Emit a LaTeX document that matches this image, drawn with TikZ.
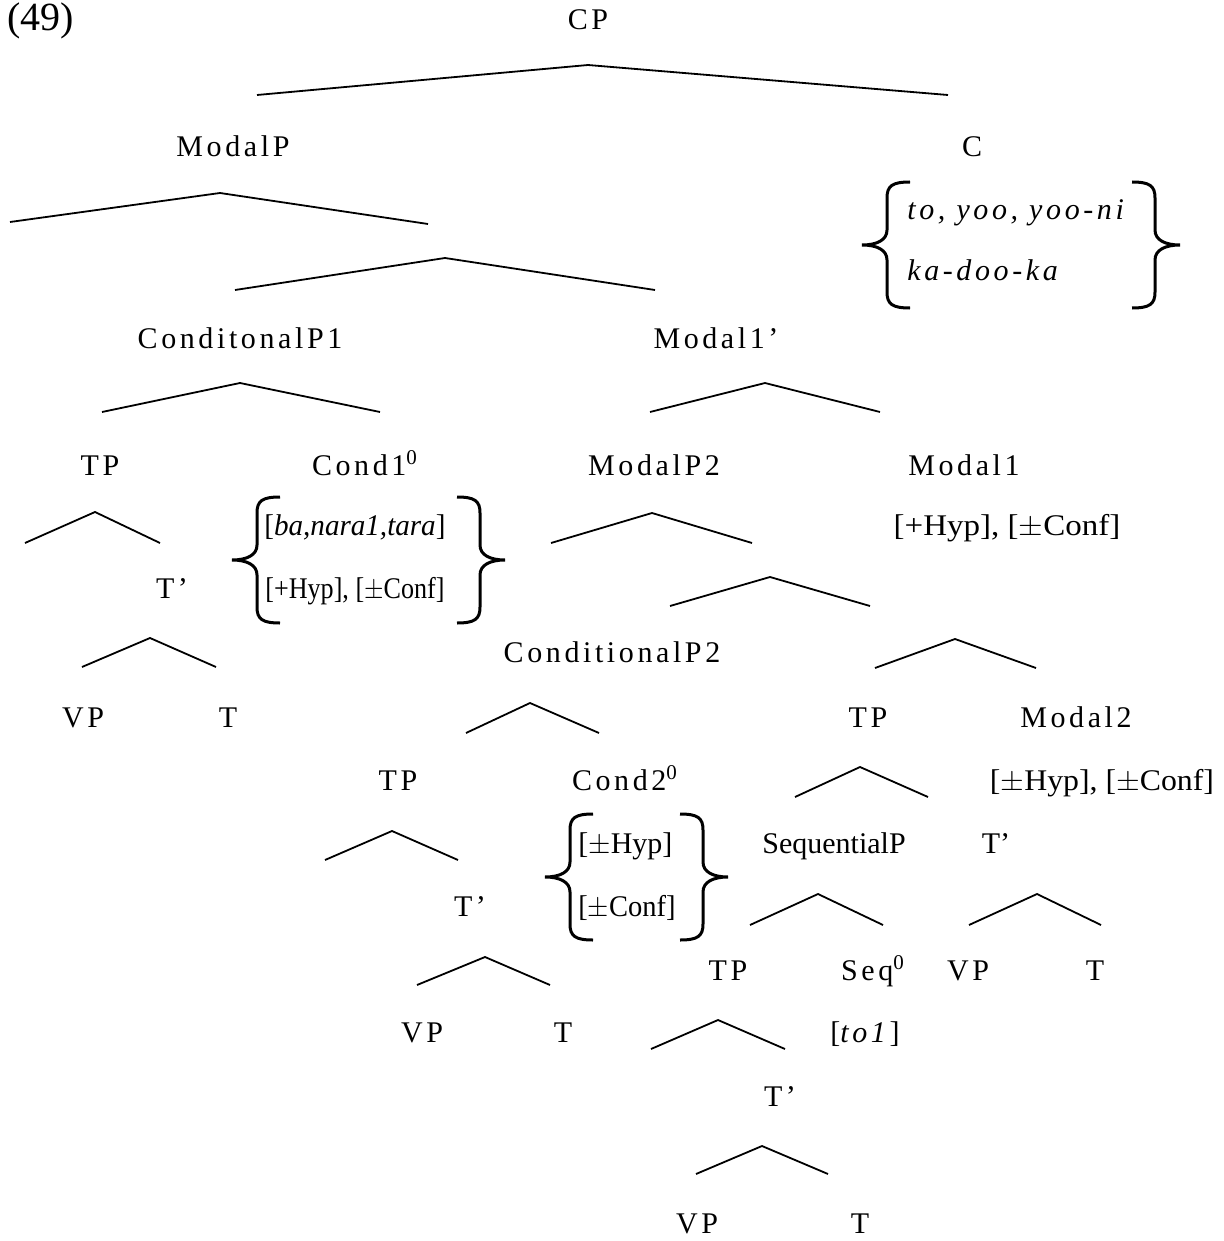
\documentclass[tikz,border=0pt]{standalone}
\usepackage{fontspec}
\usepackage{graphicx}
\setmainfont{Liberation Serif}
\newfontfamily\spc[LetterSpace=12]{Liberation Serif}
\newcommand\lsize{\fontsize{15}{18}\selectfont}

\tikzset{
    % curly brace, origin at the middle of its back, pointing left
    cbrace/.pic={
        \draw[line width=1.5pt] (23,-63) .. controls (5,-63) and (0,-59) .. (0,-47)
            -- (0,-15) .. controls (0,-5) and (-10,0) .. (-25,0)
            .. controls (-10,0) and (0,5) .. (0,15)
            -- (0,47) .. controls (0,59) and (5,63) .. (23,63);
    }
}

\begin{document}
\begin{tikzpicture}[
    x=0.5pt, y=-0.5pt,
    font=\lsize,
    lab/.style={anchor=base, inner sep=0pt, font=\lsize\spc},
    feat/.style={anchor=base, inner sep=0pt, font=\lsize},
    roof/.style={line width=0.9pt}
]
\useasboundingbox (0,0) rectangle (1224,1241);

\node[feat, anchor=base west, font=\fontsize{20}{24}\selectfont] (ex) at (7,31) {(49)};

% Top: CP, ModalP and C
\node[lab] (cp) at (588,30) {CP};
\node[lab] (modalp) at (233,157) {ModalP};
\node[lab] (c) at (972,157) {C};
\node[lab, anchor=base west] (cto) at (907,220) {\itshape to, yoo, yoo-ni};
\node[lab, anchor=base west] (cka) at (907,280) {\itshape ka-doo-ka};
\pic at (887,245) {cbrace};
\pic[xscale=-1] at (1155,245) {cbrace};

% Second level
\node[lab] (condp1) at (240,348) {ConditonalP1};
\node[lab] (modalbar) at (716,348) {Modal1’};

% Third level
\node[lab] (tpa) at (100,475) {TP};
\node[lab] (cond1) at (365,475) {Cond1\textsuperscript{0}};
\node[lab] (modalp2) at (654,475) {ModalP2};
\node[lab] (modal1) at (964,475) {Modal1};
\node[feat, anchor=base west] (cond1a) at (264,535) {\scalebox{0.97}[1]{[\textit{ba,nara1,tara}]}};
\node[feat, anchor=base west] (cond1b) at (265,598) {\scalebox{0.87}[1]{[+Hyp], [$\pm$Conf]}};
\pic at (257,560) {cbrace};
\pic[xscale=-1] at (480,560) {cbrace};
\node[feat] (modal1f) at (1007,535) {\scalebox{1.1}[1]{[+Hyp], [$\pm$Conf]}};
\node[lab] (tba) at (172,598) {T’};

% ConditionalP2 and Modal2
\node[lab] (condp2) at (612,662) {ConditionalP2};
\node[lab] (vpa) at (83,727) {VP};
\node[lab] (ta) at (228,727) {T};
\node[lab] (tpb) at (868,727) {TP};
\node[lab] (modal2) at (1076,727) {Modal2};
\node[lab] (tpc) at (398,790) {TP};
\node[lab] (cond2) at (625,790) {Cond2\textsuperscript{0}};
\node[feat] (modal2f) at (1102,790) {\scalebox{1.06}[1]{[$\pm$Hyp], [$\pm$Conf]}};
\node[feat, anchor=base west] (cond2a) at (578,853) {[$\pm$Hyp]};
\node[feat, anchor=base west] (cond2b) at (578,916) {\scalebox{0.95}[1]{[$\pm$Conf]}};
\pic at (570,877) {cbrace};
\pic[xscale=-1] at (703,877) {cbrace};
\node[feat] (seqp) at (834,853) {SequentialP};
\node[feat] (tbb) at (996,853) {T’};
\node[lab] (tbc) at (470,916) {T’};

% Lower levels
\node[lab] (tpd) at (728,980) {TP};
\node[lab] (seq) at (873,980) {Seq\textsuperscript{0}};
\node[lab] (vpb) at (968,980) {VP};
\node[lab] (tb) at (1095,980) {T};
\node[lab] (vpc) at (422,1042) {VP};
\node[lab] (tc) at (563,1042) {T};
\node[lab] (seqf) at (865,1042) {[\textit{to1}]};
\node[lab] (tbd) at (780,1106) {T’};
\node[lab] (vpd) at (697,1233) {VP};
\node[lab] (td) at (860,1233) {T};

% Roofs: left end, apex, right end
\foreach \xa/\ya/\xb/\yb/\xc/\yc in {
    257/95/588/65/948/95,
    10/222/220/193/428/224,
    235/290/445/258/655/290,
    102/412/240/383/380/412,
    650/412/765/383/880/412,
    25/543/95/512/160/543,
    551/543/652/513/752/543,
    670/606/770/577/870/606,
    82/667/150/638/216/667,
    875/668/955/639/1036/668,
    466/733/530/703/599/733,
    795/797/860/767/928/797,
    325/860/392/831/458/860,
    750/925/818/894/883/925,
    969/925/1037/894/1101/925,
    417/985/485/957/550/985,
    651/1049/718/1020/785/1049,
    696/1174/762/1146/828/1174} {
    \draw[roof] (\xa,\ya) -- (\xb,\yb) -- (\xc,\yc);
}

\end{tikzpicture}
\end{document}
